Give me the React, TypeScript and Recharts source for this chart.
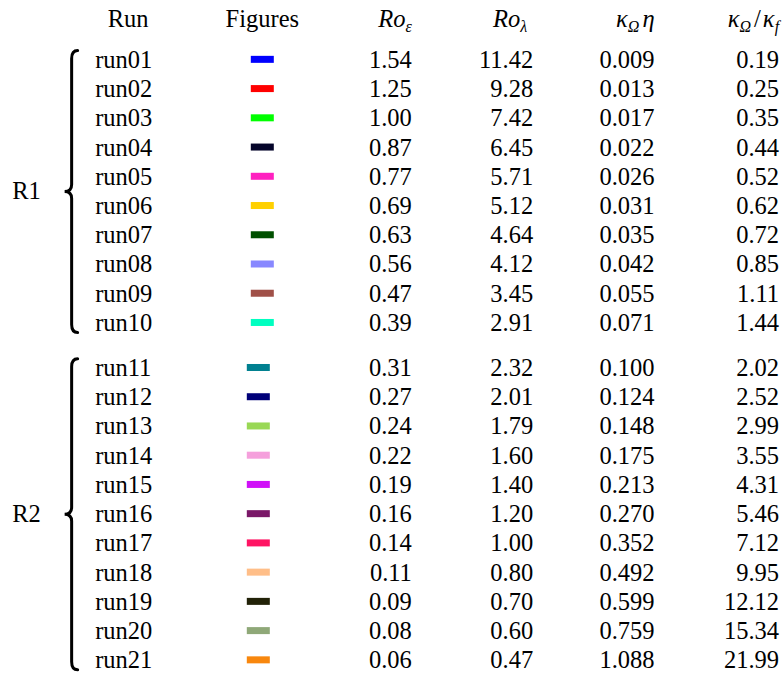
import { ScatterChart, Scatter, XAxis, YAxis, ReferenceLine } from 'recharts';

// table content
const runs = [
  'run01', 'run02', 'run03', 'run04', 'run05', 'run06', 'run07', 'run08', 'run09', 'run10',
  'run11', 'run12', 'run13', 'run14', 'run15', 'run16', 'run17', 'run18', 'run19', 'run20', 'run21',
];
const groups = [
  { name: 'R1', size: 10 },
  { name: 'R2', size: 11 },
];
const figureColors = [
  '#0000ff', '#ff0000', '#00ff00', '#05052a', '#ff20c0', '#ffd000', '#005000', '#8888ff', '#a05048', '#00ffc0',
  '#008090', '#000078', '#99d855', '#f5a0dc', '#d010f8', '#7a1868', '#ff1463', '#ffbe88', '#222208', '#8fa878', '#f8870e',
];
const roEps = [1.54, 1.25, 1.0, 0.87, 0.77, 0.69, 0.63, 0.56, 0.47, 0.39, 0.31, 0.27, 0.24, 0.22, 0.19, 0.16, 0.14, 0.11, 0.09, 0.08, 0.06];
const roLambda = [11.42, 9.28, 7.42, 6.45, 5.71, 5.12, 4.64, 4.12, 3.45, 2.91, 2.32, 2.01, 1.79, 1.6, 1.4, 1.2, 1.0, 0.8, 0.7, 0.6, 0.47];
const kappaEta = [0.009, 0.013, 0.017, 0.022, 0.026, 0.031, 0.035, 0.042, 0.055, 0.071, 0.1, 0.124, 0.148, 0.175, 0.213, 0.27, 0.352, 0.492, 0.599, 0.759, 1.088];
const kappaRatio = [0.19, 0.25, 0.35, 0.44, 0.52, 0.62, 0.72, 0.85, 1.11, 1.44, 2.02, 2.52, 2.99, 3.55, 4.31, 5.46, 7.12, 9.95, 12.12, 15.34, 21.99];

// layout (x as fraction of width, rows in row units)
const FONT = '"Liberation Serif", "Times New Roman", Times, serif';
const FS = 24.5;
const GROUP_GAP = 0.54;
const HEADER_ROW = -1.41;
const BRACE_X = 0.0915;
const COL = { run: 0.1215, fig: 0.335, roE: 0.526, roL: 0.681, kEta: 0.836, kRatio: 0.995 };
const TEXT_STYLE = { fontFamily: FONT, fontSize: FS, fill: '#000' };

const rowPos: number[] = [];
const rowGroup: number[] = [];
let start = 0;
groups.forEach((g, gi) => {
  for (let i = 0; i < g.size; i++) {
    rowPos.push(start + i + gi * GROUP_GAP);
    rowGroup.push(gi);
  }
  start += g.size;
});

const textCol = (x: number, values: (string | number)[], digits?: number) =>
  values.map((v, i) => ({
    x,
    y: rowPos[i],
    text: typeof v === 'number' ? v.toFixed(digits ?? 2) : v,
  }));

const runData = textCol(COL.run, runs);
const roEData = textCol(COL.roE, roEps, 2);
const roLData = textCol(COL.roL, roLambda, 2);
const kEtaData = textCol(COL.kEta, kappaEta, 3);
const kRatioData = textCol(COL.kRatio, kappaRatio, 2);
const figData = figureColors.map((c, i) => ({ x: COL.fig, y: rowPos[i], color: c, group: rowGroup[i] }));
const headerData = (Object.keys(COL) as (keyof typeof COL)[]).map((k) => ({ x: COL[k], y: HEADER_ROW, key: k }));

const cellText = (anchor: 'start' | 'end') => (p: any) => (
  <text x={p.cx} y={p.cy + 8.5} textAnchor={anchor} style={TEXT_STYLE}>
    {p.payload.text}
  </text>
);

const swatch = (p: any) => (
  <rect x={p.cx - 11.5 - p.payload.group * 4} y={p.cy - 3.5} width={23} height={7} fill={p.payload.color} />
);

const SUB = 16;
const IT = { ...TEXT_STYLE, fontStyle: 'italic' as const };
const header = (p: any) => {
  const y = p.cy + 8.5;
  switch (p.payload.key) {
    case 'run':
      return <text x={p.cx + 33} y={y} textAnchor="middle" style={TEXT_STYLE}>Run</text>;
    case 'fig':
      return <text x={p.cx} y={y} textAnchor="middle" style={TEXT_STYLE}>Figures</text>;
    case 'roE':
      return (
        <text x={p.cx} y={y} textAnchor="end" style={IT}>
          Ro<tspan style={{ fontSize: SUB }} dy={5}>ε</tspan>
        </text>
      );
    case 'roL':
      return (
        <text x={p.cx - 6} y={y} textAnchor="end" style={IT}>
          Ro<tspan style={{ fontSize: SUB }} dy={5}>λ</tspan>
        </text>
      );
    case 'kEta':
      return (
        <text x={p.cx} y={y} textAnchor="end" style={IT}>
          κ<tspan style={{ fontSize: SUB }} dy={5}>Ω</tspan>
          <tspan dy={-5} dx={3}>η</tspan>
        </text>
      );
    default:
      return (
        <text x={p.cx} y={y} textAnchor="end" style={IT}>
          κ<tspan style={{ fontSize: SUB }} dy={5}>Ω</tspan>
          <tspan dy={-5} dx={3} style={{ fontStyle: 'normal' }}>/</tspan>
          <tspan dx={2}>κ</tspan>
          <tspan style={{ fontSize: SUB }} dy={5}>f</tspan>
        </text>
      );
  }
};

const brace = (label: string) => (p: any) => {
  const x = p.x1;
  const top = Math.min(p.y1, p.y2);
  const bot = Math.max(p.y1, p.y2);
  const mid = (top + bot) / 2;
  const d =
    `M ${x + 6} ${top} Q ${x} ${top} ${x} ${top + 8} L ${x} ${mid - 7} ` +
    `Q ${x} ${mid} ${x - 7} ${mid} Q ${x} ${mid} ${x} ${mid + 7} ` +
    `L ${x} ${bot - 8} Q ${x} ${bot} ${x + 6} ${bot}`;
  return (
    <g>
      <path d={d} fill="none" stroke="#000" strokeWidth={3} strokeLinecap="round" />
      <text x={x - 59.5} y={mid + 8} style={TEXT_STYLE}>
        {label}
      </text>
    </g>
  );
};

export default function App() {
  let first = 0;
  const braces = groups.map((g) => {
    const a = rowPos[first];
    const b = rowPos[first + g.size - 1];
    first += g.size;
    return (
      <ReferenceLine
        key={g.name}
        segment={[
          { x: BRACE_X, y: a - 0.3 },
          { x: BRACE_X, y: b + 0.34 },
        ]}
        ifOverflow="visible"
        shape={brace(g.name)}
      />
    );
  });

  return (
    <div style={{ position: 'absolute', left: 0, top: 0, width: 783, height: 673, background: '#fff' }}>
      <ScatterChart width={783} height={673} margin={{ top: 0, right: 0, bottom: 0, left: 0 }}>
        <XAxis type="number" dataKey="x" domain={[0, 1]} hide />
        <YAxis type="number" dataKey="y" domain={[-2.03, 20.99]} reversed hide />
        {braces}
        <Scatter data={headerData} shape={header} isAnimationActive={false} />
        <Scatter data={runData} shape={cellText('start')} isAnimationActive={false} />
        <Scatter data={figData} shape={swatch} isAnimationActive={false} />
        <Scatter data={roEData} shape={cellText('end')} isAnimationActive={false} />
        <Scatter data={roLData} shape={cellText('end')} isAnimationActive={false} />
        <Scatter data={kEtaData} shape={cellText('end')} isAnimationActive={false} />
        <Scatter data={kRatioData} shape={cellText('end')} isAnimationActive={false} />
      </ScatterChart>
    </div>
  );
}
